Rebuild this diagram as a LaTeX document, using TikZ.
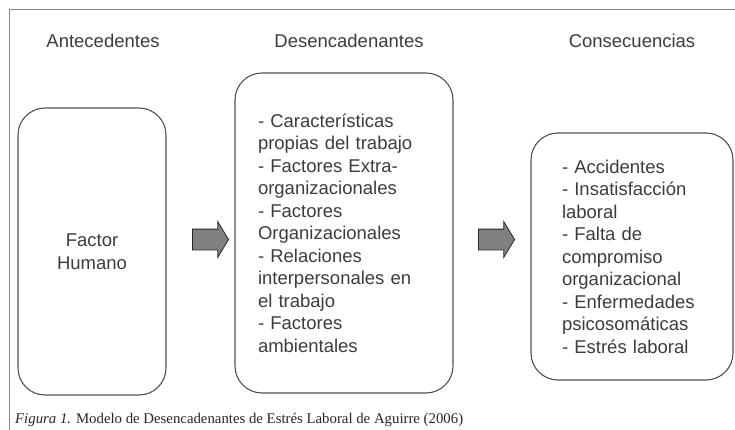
\documentclass[tikz,border=0pt]{standalone}
\usepackage{fontspec}
\setmainfont{Liberation Serif}
\setsansfont{Liberation Sans}
\usepackage{tikz}
\usetikzlibrary{shapes.arrows}
\usetikzlibrary{positioning}
\definecolor{textgray}{HTML}{3C3C3C}
\definecolor{linegray}{HTML}{505050}
\definecolor{framegray}{HTML}{8A8A8A}
\definecolor{arrowgray}{HTML}{808080}
\begin{document}
\begin{tikzpicture}
			[
				x = 1pt, y = -1pt,
				title/.style = {font = \sffamily\fontsize{18.5}{22.5}\selectfont, text = textgray, inner sep = 0pt},
				box/.style = {rectangle, rounded corners = 27pt, draw = linegray, line width = 1.1pt, font = \sffamily\fontsize{18.5}{22.5}\selectfont, text = textgray, inner sep = 0pt},
				blockarrow/.style = {single arrow, single arrow head extend = 7.5pt, single arrow tip angle = 118, minimum height = 36pt, minimum width = 35pt, inner xsep = 0pt, inner ysep = 10pt, fill = arrowgray, draw = black!85, line width = 0.8pt, anchor = tip},
			]
			\useasboundingbox (0,0) rectangle (735,430);
			% marco
			\draw [framegray, line width = 0.9pt] (735,9) -- (9,9) -- (9,430);
			% titulos
			\node (tantecedentes) [title] at (103,41) {Antecedentes};
			\node (tdesencadenantes) [title] at (349,41) {Desencadenantes};
			\node (tconsecuencias) [title] at (632,41) {Consecuencias};
			% cajas
			\node (antecedentes) [box, minimum width = 148pt, minimum height = 287pt, align = center] at (92,251.5) {Factor\\Humano};
			\node (desencadenantes) [box, minimum width = 218pt, minimum height = 320pt, text width = 172pt, align = left] at (344,233)
				{- Características\\propias del trabajo\\- Factores Extra-\\organizacionales\\- Factores\\Organizacionales\\- Relaciones\\interpersonales en\\el trabajo\\- Factores\\ambientales};
			\node (consecuencias) [box, minimum width = 202pt, minimum height = 247pt, text width = 140pt, align = left] at (632,256.5)
				{- Accidentes\\- Insatisfacción\\laboral\\- Falta de\\compromiso\\organizacional\\- Enfermedades\\psicosomáticas\\- Estrés laboral};
			% flechas
			\node (flecha1) [blockarrow] at (229,239.5) {};
			\node (flecha2) [blockarrow] at (515,239.5) {};
			% pie
			\node (pie) [anchor = base west, inner sep = 0pt, font = \fontsize{14.8}{17}\selectfont, text = black!85] at (15,423)
				{\textit{Figura 1.} Modelo de Desencadenantes de Estrés Laboral de Aguirre (2006)};
		\end{tikzpicture}
\end{document}
